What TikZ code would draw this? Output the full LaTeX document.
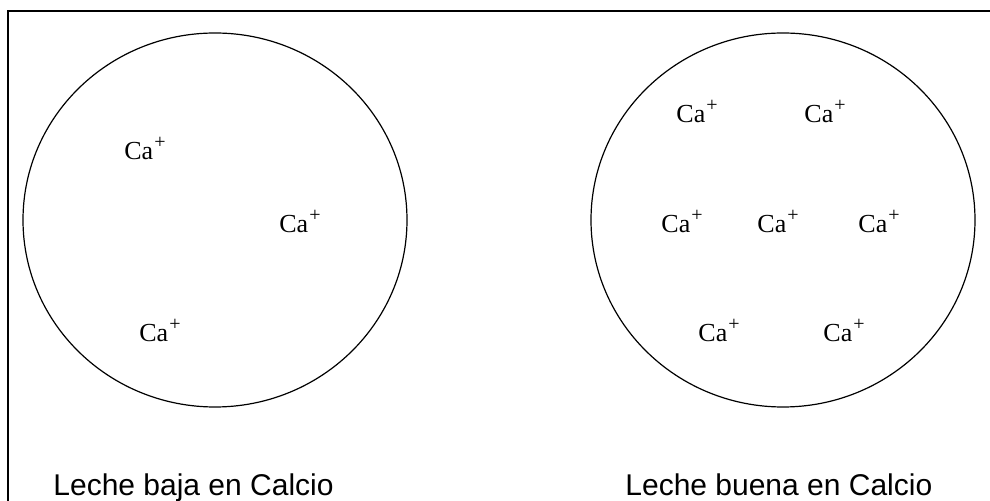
\documentclass[tikz,border=0pt]{standalone}
\usepackage{fontspec}
\setmainfont{Liberation Serif}
\newfontfamily\labelfont{Liberation Sans}
\usetikzlibrary{positioning,shapes.geometric}

\newcommand{\caion}{Ca\hspace{0.6pt}\raisebox{5.6pt}{\fontsize{10}{10}\selectfont+}}

\begin{document}
\begin{tikzpicture}[
  x=0.5pt, y=-0.5pt,
  glass/.style={draw, ellipse, line width=0.6pt, inner sep=0pt,
                minimum width=192pt, minimum height=187pt},
  ion/.style={anchor=base west, inner sep=0pt,
              font=\fontsize{13}{15}\selectfont},
  caption/.style={anchor=base west, inner sep=0pt,
                  font=\labelfont\fontsize{15}{18}\selectfont},
  frame/.style={line width=1pt},
]
\useasboundingbox (0,0) rectangle (990,501);

% frame (left and top edges only)
\coordinate (fbl) at (8,501);
\coordinate (ftl) at (8,11);
\coordinate (ftr) at (990,11);
\draw[frame] (fbl) -- (ftl) -- (ftr);

% the two glasses of milk
\node[glass] (low)  at (215,220) {};
\node[glass] (good) at (783,220) {};

% ions, low calcium
\foreach \n/\x/\y in {1/124/160, 2/279/233, 3/139/342}{
  \node[ion] (low\n) at (\x,\y) {\caion};
}
% ions, good calcium
\foreach \n/\x/\y in {1/676/123, 2/804/123, 3/661/233, 4/757/233,
                      5/858/233, 6/698/342, 7/823/342}{
  \node[ion] (good\n) at (\x,\y) {\caion};
}

\node[caption] (lowlabel)  at (53,495)  {Leche baja en Calcio};
\node[caption] (goodlabel) at (625,495) {Leche buena en Calcio};
\end{tikzpicture}
\end{document}
